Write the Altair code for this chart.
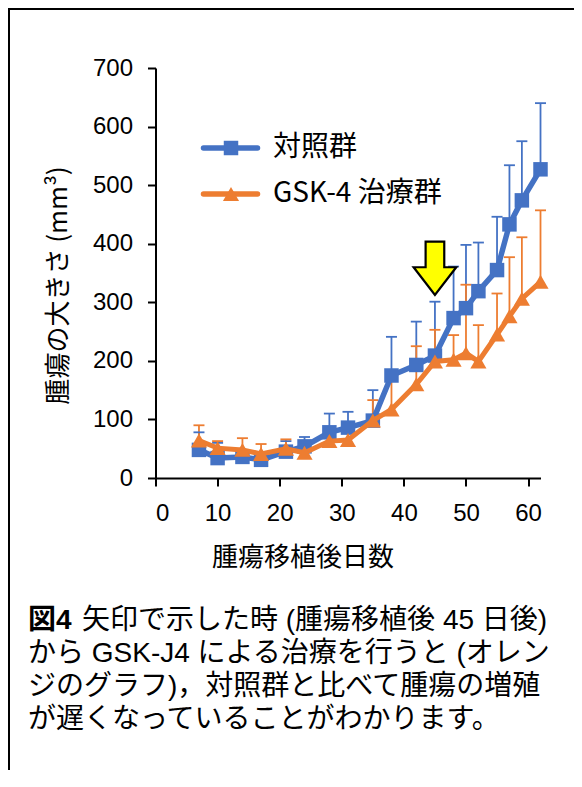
import altair as alt
import pandas as pd

# ---------------- data ----------------
days = [7, 10, 14, 17, 21, 24, 28, 31, 35, 38, 42, 45, 48, 50, 52, 55, 57, 59, 62]
control_mean = [48, 34, 36, 31, 45, 54, 78, 86, 98, 175, 193, 209, 273, 290, 319, 355, 433, 474, 527]
control_sd = [30, 26, 12, 9, 18, 16, 32, 27, 52, 66, 74, 92, 88, 108, 83, 91, 101, 101, 113]
gsk_mean = [64, 51, 48, 41, 50, 43, 63, 65, 98, 117, 160, 199, 202, 213, 199, 245, 276, 306, 335]
gsk_sd = [26, 12, 20, 17, 16, 12, 13, 15, 35, 53, 65, 54, 42, 117, 62, 70, 101, 105, 122]

series_names = ["対照群", "GSK-4 治療群"]
series_colors = ["#4472C4", "#ED7D31"]
series_shapes = ["square", "triangle-up"]

arrow_day = [45]
arrow_value = [358]

x_ticks = [0, 10, 20, 30, 40, 50, 60]
y_ticks = [0, 100, 200, 300, 400, 500, 600, 700]
x_title = "腫瘍移植後日数"
y_title = "腫瘍の大きさ (mm³)"

caption_bold = "図4"
caption_first = "矢印で示した時 (腫瘍移植後 45 日後)"
caption_rest = [
    "から GSK-J4 による治療を行うと (オレン",
    "ジのグラフ)，対照群と比べて腫瘍の増殖",
    "が遅くなっていることがわかります。",
]

# ---------------- tables ----------------
n = len(days)
df = pd.DataFrame({
    "day": days + days,
    "mean": control_mean + gsk_mean,
    "sd": control_sd + gsk_sd,
    "series": [series_names[0]] * n + [series_names[1]] * n,
})
arrow_df = pd.DataFrame({"day": arrow_day, "value": arrow_value})

CJK = "Noto Sans CJK JP"
LAT = "Liberation Sans"
CAPTION_FONT = "Liberation Sans, Noto Sans CJK JP"

x_scale = alt.Scale(domain=[0, 62], nice=False, zero=False)
y_scale = alt.Scale(domain=[0, 700], nice=False)

x_axis = alt.Axis(values=x_ticks, grid=False, title=x_title, titleX=147, titleY=79,
                  titleAlign="center", titleBaseline="middle", labelPadding=15)
y_axis = alt.Axis(values=y_ticks, grid=False, title=y_title, titleX=-97, titleY=217,
                  titleAlign="center", titleBaseline="middle", labelPadding=15)

color = alt.Color("series:N", scale=alt.Scale(domain=series_names, range=series_colors), legend=None)

base = alt.Chart(df).encode(
    x=alt.X("day:Q", scale=x_scale, axis=x_axis),
    color=color,
)

err = base.transform_calculate(top="datum.mean + datum.sd")
err_rule = err.mark_rule(strokeWidth=1.8).encode(
    y=alt.Y("mean:Q", scale=y_scale, axis=y_axis), y2="top:Q")
err_cap = err.mark_point(shape="M -1 0 L 1 0", size=121, strokeWidth=1.8,
                         filled=False, opacity=1).encode(
    y=alt.Y("top:Q", scale=y_scale, axis=y_axis))

layers = [err_rule, err_cap]
marker_sizes = [210, 260]
line_widths = [5.5, 5]
for name, col, shp, ms, lw in zip(series_names, series_colors, series_shapes, marker_sizes, line_widths):
    sub = base.transform_filter(alt.datum.series == name)
    layers.append(sub.mark_line(strokeWidth=lw, color=col).encode(
        y=alt.Y("mean:Q", scale=y_scale, axis=y_axis)))
    layers.append(sub.mark_point(shape=shp, filled=True, size=ms, opacity=1, color=col).encode(
        y=alt.Y("mean:Q", scale=y_scale, axis=y_axis)))

# arrow annotation
arrow = alt.Chart(arrow_df).mark_point(
    shape="M -0.35 -1 L 0.35 -1 L 0.35 -0.04 L 0.8 -0.04 L 0 1 L -0.8 -0.04 L -0.35 -0.04 Z",
    size=2840, filled=True, fill="#FFFF00", stroke="black", strokeWidth=2.2, opacity=1,
    strokeJoin="miter",
).encode(
    x=alt.X("day:Q", scale=x_scale, axis=x_axis),
    y=alt.Y("value:Q", scale=y_scale, axis=y_axis),
)
layers.append(arrow)

# legend (inside plot)
legend_rows_y = [80, 126]
for name, col, shp, ms, ry in zip(series_names, series_colors, series_shapes, marker_sizes, legend_rows_y):
    ldf = pd.DataFrame({"label": [name]})
    lc = alt.Chart(ldf)
    layers.append(lc.mark_rule(color=col, strokeWidth=5.5, strokeCap="round").encode(
        x=alt.value(48), x2=alt.value(102), y=alt.value(ry)))
    layers.append(lc.mark_point(shape=shp, filled=True, size=ms, color=col, opacity=1).encode(
        x=alt.value(75.5), y=alt.value(ry)))
    layers.append(lc.mark_text(align="left", baseline="middle", font=CJK, fontSize=28,
                               color="black").encode(
        x=alt.value(117.5), y=alt.value(ry), text="label:N"))

# caption
one = pd.DataFrame({"k": [0]})
layers.append(alt.Chart(one).mark_text(text=caption_bold, align="left", baseline="alphabetic",
                                       font=CAPTION_FONT, fontSize=28, fontWeight="bold",
                                       color="black").encode(
    x=alt.value(-127.5), y=alt.value(561)))
layers.append(alt.Chart(one).mark_text(text=caption_first, align="left", baseline="alphabetic",
                                       font=CAPTION_FONT, fontSize=28, color="black").encode(
    x=alt.value(-73.5), y=alt.value(561)))
layers.append(alt.Chart(one).mark_text(text=caption_rest, align="left", baseline="alphabetic",
                                       font=CAPTION_FONT, fontSize=28, lineHeight=33,
                                       color="black").encode(
    x=alt.value(-127.5), y=alt.value(594)))

# outer frame (top and left edges)
layers.append(alt.Chart(one).mark_rule(color="black", strokeWidth=2).encode(
    x=alt.value(-146.5), x2=alt.value(430), y=alt.value(-59)))
layers.append(alt.Chart(one).mark_rule(color="black", strokeWidth=2).encode(
    x=alt.value(-146.5), y=alt.value(-60), y2=alt.value(720)))

chart = alt.layer(*layers).properties(
    width=385, height=410,
    autosize=alt.AutoSizeParams(type="none"),
    padding={"left": 147.5, "top": 60, "right": 33, "bottom": 292},
).configure_view(stroke=None).configure_axis(
    domainColor="black", domainWidth=2, tickColor="black", tickWidth=2, tickSize=8,
    labelFont=LAT, labelFontSize=24, labelColor="black",
    titleFont=CJK, titleFontSize=26, titleFontWeight="normal", titleColor="black",
)

chart.save("out.html", embed_options={"renderer": "svg", "actions": False})
